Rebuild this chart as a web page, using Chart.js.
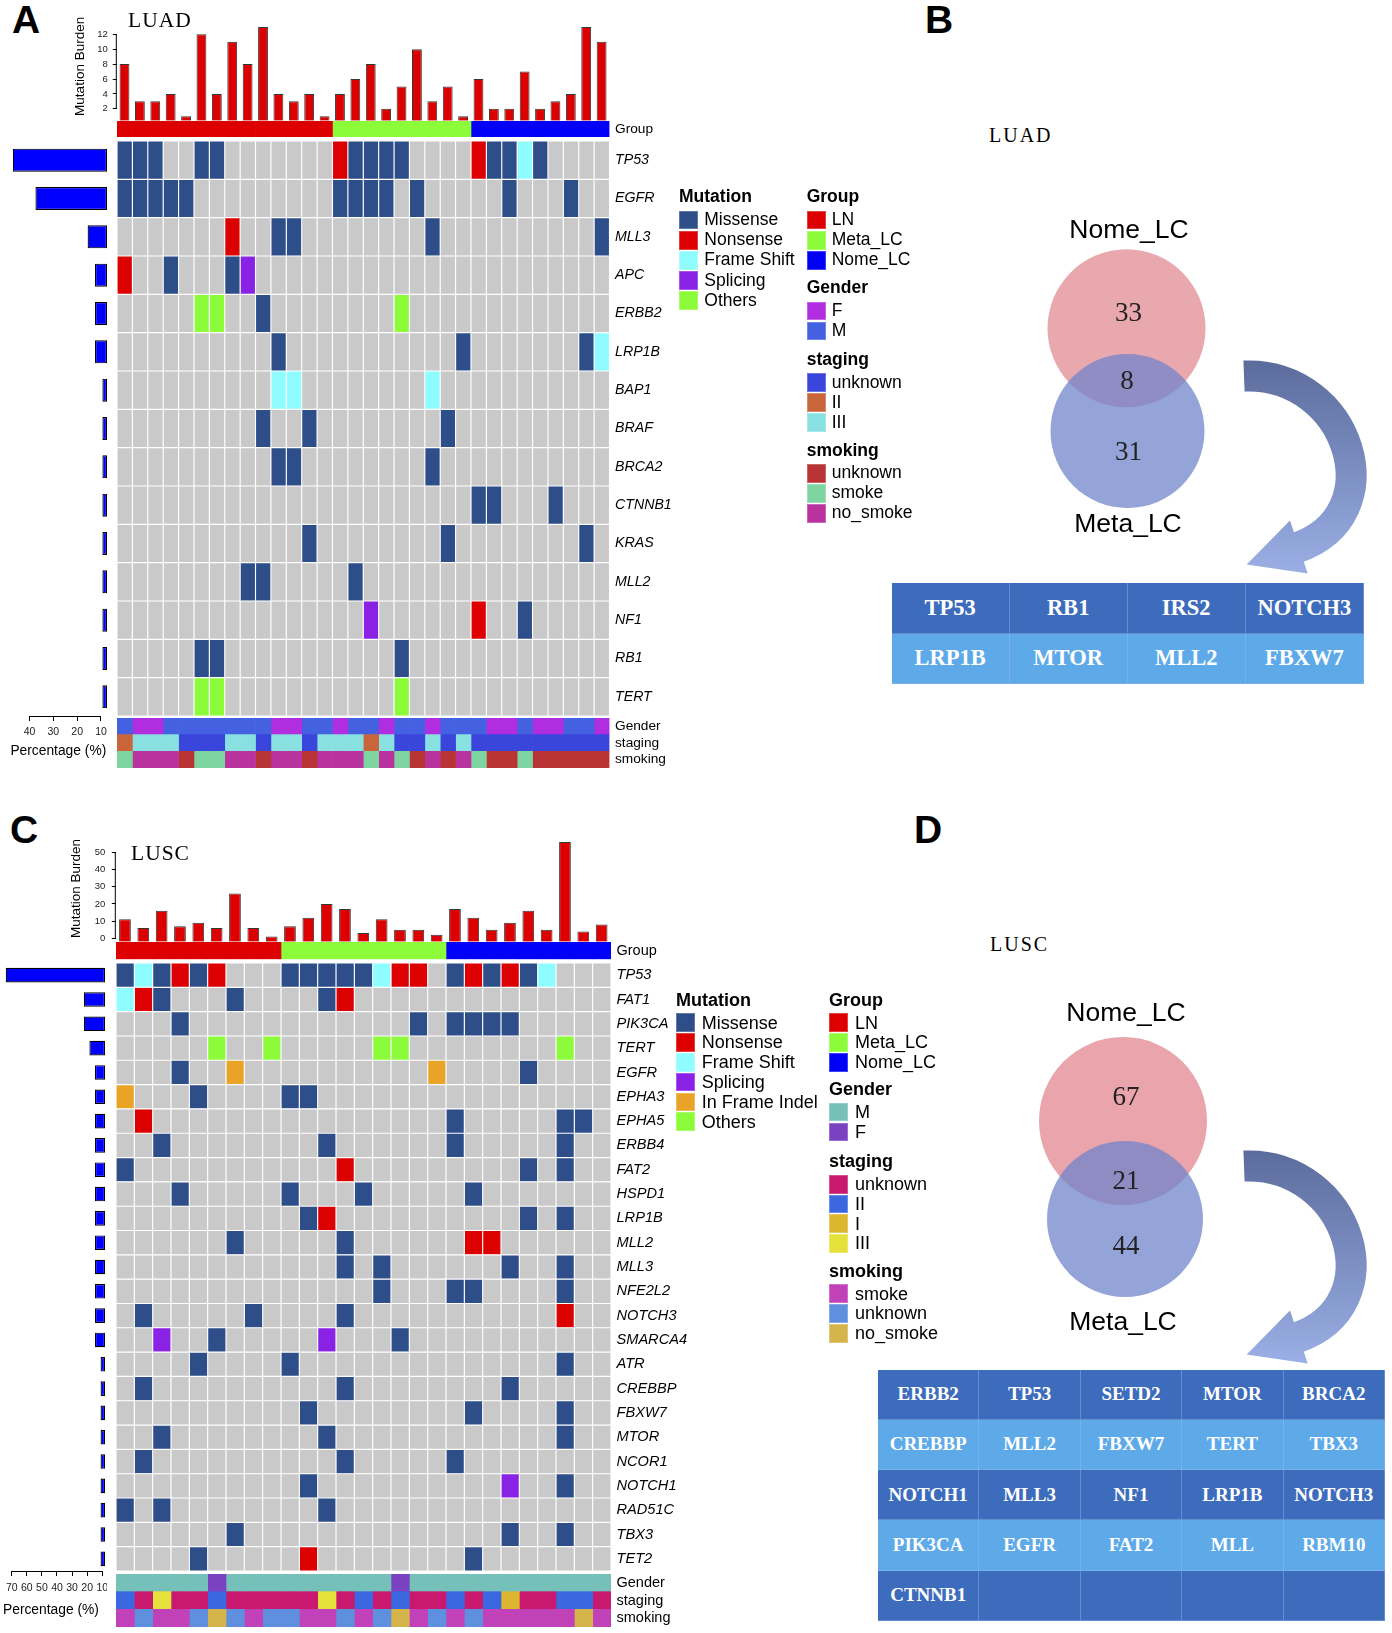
<!DOCTYPE html>
<html><head><meta charset="utf-8">
<script src="https://cdn.jsdelivr.net/npm/chart.js@4.4.1/dist/chart.umd.min.js"></script>
<style>
body{margin:0;background:#fff;}
#root{position:relative;width:1392px;height:1633px;overflow:hidden;background:#fff;font-family:"Liberation Sans",Arial,sans-serif;}
canvas{position:absolute;}
.t{position:absolute;white-space:nowrap;line-height:1;}
.sw{position:absolute;}
.cell{position:absolute;box-sizing:border-box;display:flex;align-items:center;justify-content:center;color:#fff;font-family:"Liberation Serif","Times New Roman",serif;font-weight:bold;border-right:1px solid rgba(150,185,235,0.45);border-bottom:1px solid rgba(150,185,235,0.45);}
</style></head><body><div id="root"></div>
<script>
// ---------------- DATA ----------------
const luadGenes = ['TP53','EGFR','MLL3','APC','ERBB2','LRP1B','BAP1','BRAF','BRCA2','CTNNB1','KRAS','MLL2','NF1','RB1','TERT'];
const luadBurden = [8,3,3,4,1,12,4,11,8,13,4,3,4,1,4,6,8,2,5,10,3,5,1,6,2,2,7,2,3,4,13,11];
const luadBurdenTicks = [2,4,6,8,10,12];
const luadPct = [47,37.5,15.6,12.5,12.5,12.5,9.4,9.4,9.4,9.4,9.4,9.4,9.4,9.4,9.4];
const luadPctTicks = [10,20,30,40];
const luadGroup = 'AAAAAAAAAAAAAABBBBBBBBBCCCCCCCCC';
const luadGender = 'MFFMMMMMMMFFMMFMMFMMFMMMFFMFFMMF';
const luadStaging = '2333UUU33U33U33323UU3U3UUUUUUUUU';
const luadSmoking = 'SNNNUSSNNUNNUNNNSNSUNUNSUUSUUUUU';
const luadMut = [
 'M0 M1 M2 M5 M6 N14 M15 M16 M17 M18 N23 M24 M25 F26 M27',
 'M0 M1 M2 M3 M4 M14 M15 M16 M17 M19 M25 M29',
 'N7 M10 M11 M20 M31',
 'N0 M3 M7 S8',
 'O5 O6 M9 O18',
 'M10 M22 M30 F31',
 'F10 F11 F20',
 'M9 M12 M21',
 'M10 M11 M20',
 'M23 M24 M28',
 'M12 M21 M30',
 'M8 M9 M15',
 'S16 N23 M26',
 'M5 M6 M18',
 'O5 O6 O18'
];

const luscGenes = ['TP53','FAT1','PIK3CA','TERT','EGFR','EPHA3','EPHA5','ERBB4','FAT2','HSPD1','LRP1B','MLL2','MLL3','NFE2L2','NOTCH3','SMARCA4','ATR','CREBBP','FBXW7','MTOR','NCOR1','NOTCH1','RAD51C','TBX3','TET2'];
const luscBurden = [11,6,16,7,9,6,26,6,1,7,12,20,17,3,11,5,5,2,17,12,5,9,16,5,56,4,8];
const luscBurdenTicks = [0,10,20,30,40,50];
const luscPct = [74,22.2,22.2,18.5,14.8,14.8,14.8,14.8,14.8,14.8,14.8,14.8,14.8,14.8,14.8,14.8,11.1,11.1,11.1,11.1,11.1,11.1,11.1,11.1,11.1];
const luscPctTicks = [10,20,30,40,50,60,70];
const luscGroup = 'AAAAAAAAABBBBBBBBBCCCCCCCCC';
const luscGender = 'MMMMMFMMMMMMMMMFMMMMMMMMMMM';
const luscStaging = '2U3UU2UUUUU3U2U2UU2U21UU22U';
const luscSmoking = 'SUSSUNUSUUSSUSUNSUSUSSSSSNS';
const luscMut = [
 'M0 F1 M2 N3 M4 N5 M9 M10 M11 M12 M13 F14 N15 N16 M18 N19 M20 N21 M22 F23',
 'F0 N1 M2 M6 M11 N12',
 'M3 M16 M18 M19 M20 M21',
 'O5 O8 O14 O15 O24',
 'M3 I6 I17 M22',
 'I0 M4 M9 M10',
 'N1 M18 M24 M25',
 'M2 M11 M18 M24',
 'M0 N12 M22 M24',
 'M3 M9 M13 M19',
 'M10 N11 M22 M24',
 'M6 M12 N19 N20',
 'M12 M14 M21 M24',
 'M14 M18 M19 M24',
 'M1 M7 M12 N24',
 'S2 M5 S11 M15',
 'M4 M9 M24',
 'M1 M12 M21',
 'M10 M19 M24',
 'M2 M11 M24',
 'M1 M12 M18',
 'M10 S21 M24',
 'M0 M2 M11',
 'M6 M21 M24',
 'M4 N10 M19'
];

const vennSets = ['Nome_LC','Meta_LC'];
const vennLuadCounts = [33, 8, 31];
const vennLuscCounts = [67, 21, 44];
const tableLuad = ['TP53','RB1','IRS2','NOTCH3','LRP1B','MTOR','MLL2','FBXW7'];
const tableLusc = ['ERBB2','TP53','SETD2','MTOR','BRCA2','CREBBP','MLL2','FBXW7','TERT','TBX3','NOTCH1','MLL3','NF1','LRP1B','NOTCH3','PIK3CA','EGFR','FAT2','MLL','RBM10','CTNNB1'];

// ---------------- STYLES ----------------
const mutColors = {M:'#2d4e89', N:'#dc0000', F:'#8ffcff', S:'#8a22e6', O:'#8cfc3a', I:'#e9a427', '.':'#c9c9c9'};
const groupColors = {A:'#dc0000', B:'#8cfc3a', C:'#0000f6'};
const luadAnnColors = [
  {F:'#b12ee0', M:'#4361e1'},
  {U:'#3a45dc', '2':'#c9653b', '3':'#88e1e0'},
  {U:'#b93535', S:'#7fd5a2', N:'#b9339f'}
];
const luscAnnColors = [
  {M:'#75c1b9', F:'#7a41c1'},
  {U:'#c9196f', '2':'#3b67e1', '1':'#dcb62f', '3':'#e5e13b'},
  {S:'#c141b9', U:'#5f8fdf', N:'#d5b54b'}
];

Chart.defaults.font.family = '"Liberation Sans", Arial, sans-serif';
Chart.defaults.color = '#000';
Chart.defaults.animation = false;
Chart.defaults.responsive = false;
Chart.defaults.events = [];
Chart.defaults.plugins.legend.display = false;
Chart.defaults.plugins.tooltip.enabled = false;

const root = document.getElementById('root');
function mkCanvas(x, y, w, h){
  const c = document.createElement('canvas');
  c.width = w; c.height = h;
  c.style.left = x+'px'; c.style.top = y+'px';
  c.style.width = w+'px'; c.style.height = h+'px';
  root.appendChild(c);
  return c;
}
function txt(s, x, base, fs, o={}){
  const d = document.createElement('div');
  d.className = 't';
  d.textContent = s;
  const asc = o.serif ? 0.8375 : 0.8465;
  d.style.fontSize = fs+'px';
  d.style.fontFamily = o.serif ? '"Liberation Serif","Times New Roman",serif' : '"Liberation Sans",Arial,sans-serif';
  d.style.fontWeight = o.bold ? 'bold' : 'normal';
  if (o.italic) d.style.fontStyle = 'italic';
  d.style.top = (base - asc*fs)+'px';
  d.style.left = x+'px';
  d.style.color = o.color || '#000';
  if (o.ls) d.style.letterSpacing = o.ls+'px';
  if (o.align === 'center') d.style.transform = 'translateX(-50%)';
  root.appendChild(d);
}
function parseMatrix(rows, n){
  return rows.map(s => { const a = Array(n).fill('.'); s.split(' ').filter(Boolean).forEach(t => { a[+t.slice(1)] = t[0]; }); return a; });
}

// strip chart (oncoplot grid, group bar, annotation rows)
function stripChart(x0, x1, yTop, rowH, labels, nCols, colorFn, border, labelFont, labelPad){
  const P = 18;
  const areaW = x1 - x0, areaH = rowH*labels.length;
  const axisW = 95;
  const W = Math.ceil(areaW + axisW);
  const H = Math.ceil(areaH + 2*P);
  const c = mkCanvas(x0, yTop - P, W, H);
  const datasets = [];
  for (let col=0; col<nCols; col++){
    datasets.push({
      data: labels.map(() => [col, col+1]),
      backgroundColor: labels.map((_, r) => colorFn(r, col)),
      borderColor: '#ffffff', borderWidth: border, borderSkipped: false,
      barPercentage: 1, categoryPercentage: 1, grouped: false
    });
  }
  new Chart(c, {type:'bar', data:{labels, datasets}, options:{
    indexAxis:'y',
    layout:{autoPadding:false, padding:{top:P, bottom:H-P-areaH, left:0, right:0}},
    scales:{
      x:{type:'linear', min:0, max:nCols, display:false},
      y:{type:'category', position:'right', grid:{display:false, drawTicks:false}, border:{display:false},
         ticks:{font:labelFont, padding:labelPad, color:'#000', autoSkip:false},
         afterFit: s => { s.width = W - areaW; }}
    }
  }});
}

// mutation burden bar chart
function burdenChart(canvasLeft, x0, x1, areaTop, areaBottom, min, max, values, ticks, tickPad){
  const P = 12;
  const areaH = areaBottom - areaTop;
  const W = Math.ceil(x1 - canvasLeft);
  const H = Math.ceil(areaH + 2*P);
  const c = mkCanvas(canvasLeft, areaTop - P, W, H);
  const axisPlugin = {id:'axl', afterDraw(ch){
    const s = ch.scales.y, ctx = ch.ctx;
    ctx.save(); ctx.strokeStyle='#000'; ctx.lineWidth=1;
    ctx.beginPath(); const x = ch.chartArea.left - 0.5;
    ctx.moveTo(x, s.getPixelForValue(ticks[0])); ctx.lineTo(x, s.getPixelForValue(ticks[ticks.length-1])); ctx.stroke();
    ctx.restore();
  }};
  new Chart(c, {type:'bar', data:{labels: values.map((_, i) => 'S'+(i+1)), datasets:[{
      data: values, backgroundColor:'#dd0000', borderColor:'#2e3a3a', borderWidth:1, borderSkipped:'start',
      barPercentage:0.64, categoryPercentage:1, base:min }]},
    options:{
      layout:{autoPadding:false, padding:{top:P, bottom:H-P-areaH, left:0, right:W-(x1-canvasLeft)}},
      scales:{
        x:{display:false},
        y:{type:'linear', min, max, position:'left',
           afterBuildTicks: s => { s.ticks = ticks.map(v => ({value:v})); },
           afterFit: s => { s.width = x0 - canvasLeft; },
           grid:{drawOnChartArea:false, drawTicks:true, tickLength:4, color:'#000', lineWidth:1},
           border:{display:false},
           ticks:{font:{size:9.5}, padding:tickPad, color:'#222'},
           title:{display:true, text:'Mutation Burden', font:{size:13.5}, padding:{top:4, bottom:0}, color:'#000'}}
      }
    }, plugins:[axisPlugin]});
}

// percentage bars on the left
function pctChart(x1, yTop, rowH, genes, pct, zeroX, k, ticks, tickPad){
  const axisH = 30;
  const areaH = rowH*genes.length;
  const W = Math.ceil(x1 + 2);
  const H = Math.ceil(areaH + axisH);
  const c = mkCanvas(0, yTop, W, H);
  const pMin = (zeroX - x1)/k, pMax = zeroX/k;
  const axisPlugin = {id:'axp', afterDraw(ch){
    const s = ch.scales.x, ctx = ch.ctx;
    ctx.save(); ctx.strokeStyle='#000'; ctx.lineWidth=1;
    const y = s.top + 0.5;
    ctx.beginPath(); ctx.moveTo(s.getPixelForValue(ticks[ticks.length-1]), y); ctx.lineTo(s.getPixelForValue(ticks[0]), y); ctx.stroke();
    ctx.restore();
  }};
  new Chart(c, {type:'bar', data:{labels:genes, datasets:[{
      data:pct, backgroundColor:'#0000ff', borderColor:'#000', borderWidth:1.2, borderSkipped:false,
      barPercentage:0.6, categoryPercentage:1, base:pMin }]},
    options:{
      indexAxis:'y',
      layout:{autoPadding:false, padding:{top:0, bottom:H-areaH-axisH, left:0, right:W-x1}},
      scales:{
        y:{type:'category', display:false},
        x:{type:'linear', reverse:true, min:pMin, max:pMax, position:'bottom',
           afterBuildTicks: s => { s.ticks = ticks.map(v => ({value:v})); },
           afterFit: s => { s.height = axisH; },
           grid:{drawOnChartArea:false, drawTicks:true, tickLength:5, color:'#000', lineWidth:1},
           border:{display:false},
           ticks:{font:{size:10.5}, padding:tickPad, color:'#222', autoSkip:false, maxRotation:0}}
      }
    }, plugins:[axisPlugin]});
}

// venn diagram + curved arrow
function vennChart(left, top, w, h, circles, counts, numPos, dy){
  const c = mkCanvas(left, top, w, h);
  const plug = {id:'vennTxt', afterDraw(ch){
    const ctx = ch.ctx, sx = ch.scales.x, sy = ch.scales.y;
    ctx.save();
    ctx.fillStyle = '#222';
    ctx.font = '27px "Liberation Serif", "Times New Roman", serif';
    ctx.textAlign = 'center'; ctx.textBaseline = 'alphabetic';
    counts.forEach((v, i) => ctx.fillText(String(v), sx.getPixelForValue(numPos[i][0]), sy.getPixelForValue(numPos[i][1]) + 9));
    // curved arrow
    const X = v => sx.getPixelForValue(v), Y = v => sy.getPixelForValue(v);
    const P0=[1244,376+dy], C1=[1350,372+dy], C2=[1395,515+dy], P3=[1296,548+dy];
    const g = ctx.createLinearGradient(0, Y(358+dy), 0, Y(580+dy));
    g.addColorStop(0, '#5a6b9b'); g.addColorStop(1, '#9db1e8');
    ctx.strokeStyle = g; ctx.lineWidth = 31; ctx.lineCap = 'butt';
    ctx.beginPath(); ctx.moveTo(X(P0[0]), Y(P0[1]));
    ctx.bezierCurveTo(X(C1[0]), Y(C1[1]), X(C2[0]), Y(C2[1]), X(P3[0]), Y(P3[1])); ctx.stroke();
    const dx = P3[0]-C2[0], dyy = P3[1]-C2[1], L = Math.hypot(dx, dyy), ux = dx/L, uy = dyy/L;
    const px = -uy, py = ux;
    ctx.fillStyle = g; ctx.beginPath();
    ctx.moveTo(X(P3[0]+28*px - 3*ux), Y(P3[1]+28*py - 3*uy));
    ctx.lineTo(X(P3[0]+52*ux), Y(P3[1]+52*uy));
    ctx.lineTo(X(P3[0]-28*px - 3*ux), Y(P3[1]-28*py - 3*uy));
    ctx.closePath(); ctx.fill();
    ctx.restore();
  }};
  // first circle (Nome_LC) drawn first, second (Meta_LC, translucent) drawn over it
  new Chart(c, {type:'bubble', data:{datasets: circles.map((ci, i) => ({
      data:[{x:ci.cx, y:ci.cy, r:ci.r}], backgroundColor:ci.color, borderWidth:0, clip:false,
      order: circles.length - 1 - i }))},
    options:{layout:{autoPadding:false, padding:0}, scales:{
      x:{type:'linear', min:left, max:left+w, display:false},
      y:{type:'linear', min:top, max:top+h, reverse:true, display:false}}},
    plugins:[plug]});
}

function legend(items, swX, swW, swH, textX, fs){
  items.forEach(it => {
    if (it.title){ txt(it.title, swX, it.base, fs, {bold:true}); return; }
    const d = document.createElement('div'); d.className='sw';
    d.style.left = swX+'px'; d.style.top = it.top+'px'; d.style.width = swW+'px'; d.style.height = swH+'px';
    d.style.background = it.color; d.style.boxShadow = 'inset 0 0 0 1px rgba(255,255,255,0.25)';
    root.appendChild(d);
    txt(it.text, textX, it.top + swH/2 + 0.34*fs, fs);
  });
}

function table(left, top, colW, rowH, nCols, genes, nRows, fs){
  for (let r=0; r<nRows; r++) for (let c=0; c<nCols; c++){
    const d = document.createElement('div'); d.className='cell';
    d.style.left = (left + c*colW)+'px'; d.style.top = (top + r*rowH)+'px';
    d.style.width = colW+'px'; d.style.height = rowH+'px';
    d.style.background = r%2===0 ? '#3d6cbc' : '#5eaae9';
    d.style.fontSize = fs+'px';
    d.textContent = genes[r*nCols + c] || '';
    root.appendChild(d);
  }
}

// ---------------- PANEL A (LUAD) ----------------
const nA = luadBurden.length;
const mA = parseMatrix(luadMut, nA);
burdenChart(68.2, 117, 609.5, 12, 120.7, 0.4, 15, luadBurden, luadBurdenTicks, 5);
stripChart(117, 609.5, 120.7, 16, ['Group'], nA, (r,c) => groupColors[luadGroup[c]], 0, {size:13.7}, 5.5);
stripChart(117, 609.5, 141, 575/15, luadGenes, nA, (r,c) => mutColors[mA[r][c]], 0.9, {size:14.2, style:'italic'}, 5.5);
stripChart(117, 609.5, 718, 50/3, ['Gender','staging','smoking'], nA,
  (r,c) => luadAnnColors[r][[luadGender, luadStaging, luadSmoking][r][c]], 0, {size:13.7}, 5.5);
pctChart(107, 141, 575/15, luadGenes, luadPct, 124.8, 2.383, luadPctTicks, 4.5);

// ---------------- PANEL C (LUSC) ----------------
const nC = luscBurden.length;
const mC = parseMatrix(luscMut, nC);
burdenChart(64.2, 116, 611, 835, 941.7, -2, 60, luscBurden, luscBurdenTicks, 6.5);
stripChart(116, 611, 941.7, 17.3, ['Group'], nC, (r,c) => groupColors[luscGroup[c]], 0, {size:14.5}, 5.5);
stripChart(116, 611, 962.5, 608/25, luscGenes, nC, (r,c) => mutColors[mC[r][c]], 0.9, {size:14.6, style:'italic'}, 5.5);
stripChart(116, 611, 1573.5, 53/3, ['Gender','staging','smoking'], nC,
  (r,c) => luscAnnColors[r][[luscGender, luscStaging, luscSmoking][r][c]], 0, {size:14.5}, 5.5);
pctChart(105, 962.5, 608/25, luscGenes, luscPct, 117.3, 1.508, luscPctTicks, 6);

// ---------------- VENN B / D ----------------
vennChart(990, 200, 402, 400, [
  {cx:1126.5, cy:328.3, r:79, color:'#e9a8ae'},
  {cx:1127.5, cy:431, r:77, color:'rgba(112,132,203,0.75)'}
], vennLuadCounts, [[1128.5,311.7],[1127,380.3],[1128.5,451]], 0);
vennChart(990, 990, 402, 390, [
  {cx:1123, cy:1121, r:84, color:'#e9a5ab'},
  {cx:1125, cy:1219, r:78, color:'rgba(112,132,203,0.75)'}
], vennLuscCounts, [[1126,1096],[1126,1179.5],[1126,1244.5]], 790);

// ---------------- TEXT ----------------
txt('A', 12, 33.5, 39, {bold:true});
txt('B', 925, 33.5, 39, {bold:true});
txt('C', 10, 843.5, 39, {bold:true});
txt('D', 914, 843.5, 39, {bold:true});
txt('LUAD', 128, 28, 21.5, {serif:true, ls:1});
txt('LUSC', 131, 861.5, 21.5, {serif:true, ls:1});
txt('Percentage (%)', 10.4, 755.6, 13.8);
txt('Percentage (%)', 3, 1614.6, 13.8);
txt('LUAD', 989, 141.5, 20, {serif:true, ls:2});
txt('LUSC', 990, 950.5, 20, {serif:true, ls:2});
txt(vennSets[0], 1129, 238.5, 26.5, {align:'center'});
txt(vennSets[1], 1128, 532, 26.5, {align:'center'});
txt(vennSets[0], 1126, 1021.5, 26.5, {align:'center'});
txt(vennSets[1], 1123, 1330, 26.5, {align:'center'});

// legends A
legend([
  {title:'Mutation', base:203.2},
  {text:'Missense', color:mutColors.M, top:210.7},
  {text:'Nonsense', color:mutColors.N, top:230.9},
  {text:'Frame Shift', color:mutColors.F, top:251},
  {text:'Splicing', color:mutColors.S, top:271.1},
  {text:'Others', color:mutColors.O, top:291.3}
], 679, 19, 18.7, 704.3, 17.5);
legend([
  {title:'Group', base:203.2},
  {text:'LN', color:groupColors.A, top:210.7},
  {text:'Meta_LC', color:groupColors.B, top:230.9},
  {text:'Nome_LC', color:groupColors.C, top:251},
  {title:'Gender', base:294.2},
  {text:'F', color:luadAnnColors[0].F, top:301.7},
  {text:'M', color:luadAnnColors[0].M, top:321.7},
  {title:'staging', base:365.8},
  {text:'unknown', color:luadAnnColors[1].U, top:373.3},
  {text:'II', color:luadAnnColors[1]['2'], top:393.3},
  {text:'III', color:luadAnnColors[1]['3'], top:413.3},
  {title:'smoking', base:456.5},
  {text:'unknown', color:luadAnnColors[2].U, top:464},
  {text:'smoke', color:luadAnnColors[2].S, top:484},
  {text:'no_smoke', color:luadAnnColors[2].N, top:504}
], 806.7, 19, 18.7, 831.7, 17.5);

// legends C
legend([
  {title:'Mutation', base:1006},
  {text:'Missense', color:mutColors.M, top:1013.3},
  {text:'Nonsense', color:mutColors.N, top:1033.1},
  {text:'Frame Shift', color:mutColors.F, top:1052.9},
  {text:'Splicing', color:mutColors.S, top:1072.7},
  {text:'In Frame Indel', color:mutColors.I, top:1092.5},
  {text:'Others', color:mutColors.O, top:1112.3}
], 676, 19, 18.7, 701.7, 18);
legend([
  {title:'Group', base:1006},
  {text:'LN', color:groupColors.A, top:1013.3},
  {text:'Meta_LC', color:groupColors.B, top:1033.1},
  {text:'Nome_LC', color:groupColors.C, top:1052.9},
  {title:'Gender', base:1095.2},
  {text:'M', color:luscAnnColors[0].M, top:1102.7},
  {text:'F', color:luscAnnColors[0].F, top:1122.6},
  {title:'staging', base:1167.5},
  {text:'unknown', color:luscAnnColors[1].U, top:1175},
  {text:'II', color:luscAnnColors[1]['2'], top:1194.7},
  {text:'I', color:luscAnnColors[1]['1'], top:1214.4},
  {text:'III', color:luscAnnColors[1]['3'], top:1234.1},
  {title:'smoking', base:1276.8},
  {text:'smoke', color:luscAnnColors[2].S, top:1284.3},
  {text:'unknown', color:luscAnnColors[2].U, top:1304.2},
  {text:'no_smoke', color:luscAnnColors[2].N, top:1324}
], 829, 19.3, 18.7, 855, 18);

// tables
table(891.5, 583, 118.1, 50.5, 4, tableLuad, 2, 22.5);
table(878, 1369.5, 101.4, 50.3, 5, tableLusc, 5, 19);
</script></body></html>
